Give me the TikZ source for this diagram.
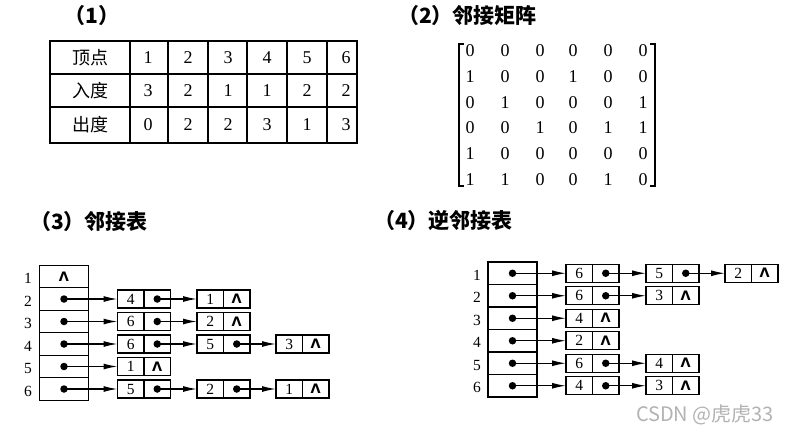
\documentclass[tikz,border=0pt]{standalone}
\usepackage{fontspec}
\setmainfont{Liberation Serif}
\newfontfamily\cjk{Noto Sans CJK SC}
\newfontfamily\djv{DejaVu Sans}
\usetikzlibrary{arrows.meta}
\newcommand\nilsym{{\djv\bfseries\fontsize{13}{13}\selectfont Λ}}
\tikzset{
 tbl/.style={line width=2pt},
 cell/.style={draw, line width=1.4pt, outer sep=0pt, minimum width=26.5pt, minimum height=18pt, inner sep=0pt, font=\fontsize{15.5}{15.5}\selectfont},
 headcell/.style={draw, line width=1.4pt, outer sep=0pt, minimum width=49pt, minimum height=22.5pt, inner sep=0pt},
 ptr/.style={line width=1.3pt, -{Latex[length=14pt,width=6pt]}},
 dot/.style={circle, fill, inner sep=0pt, minimum size=7.5pt},
 title/.style={font=\cjk\bfseries\fontsize{21}{21}\selectfont, anchor=west, inner sep=0pt},
 num/.style={font=\fontsize{18}{18}\selectfont, inner sep=0pt},
 hz/.style={font=\cjk\fontsize{18}{18}\selectfont, inner sep=0pt},
 rowlbl/.style={font=\fontsize{15.5}{15.5}\selectfont, inner sep=0pt},
 wm/.style={font=\cjk\fontsize{20}{20}\selectfont, text=black!30, inner sep=0pt},
}
% list element: name, left x, center y, value, 1 = pointer / 0 = nil
\newcommand\lel[5]{%
 \node[cell,anchor=west] (#1v) at (#2,#3) {#4};
 \node[cell,anchor=west] (#1p) at (#1v.east) {\ifnum#5=0 \nilsym\fi};
 \ifnum#5=1 \node[dot] (#1d) at (#1p.center) {};\fi
}
\begin{document}
\begin{tikzpicture}[x=1pt,y=-1pt]
\path[use as bounding box] (0,0) rectangle (789,434);

% ---------- (1) ----------
\node[title,anchor=center] (t1) at (92,16) {（1）};
\draw[tbl] (50,41) rectangle (357,143);
\draw[tbl] (50,74) -- (357,74) (50,107) -- (357,107);
\foreach \x in {130,168,208,247,287,327} \draw[tbl] (\x,41) -- (\x,143);
\node[hz] (tr1) at (90,58) {顶点};
\node[hz] (tr2) at (90,91) {入度};
\node[hz] (tr3) at (90,125) {出度};
\foreach \v [count=\i] in {1,2,3,4,5,6} {
  \pgfmathsetmacro\xx{{148,188,228,267,307,346}[\i-1]}
  \node[num] (ta\i) at (\xx,58) {\v};
}
\foreach \v [count=\i] in {3,2,1,1,2,2} {
  \pgfmathsetmacro\xx{{148,188,228,267,307,346}[\i-1]}
  \node[num] (tb\i) at (\xx,91) {\v};
}
\foreach \v [count=\i] in {0,2,2,3,1,3} {
  \pgfmathsetmacro\xx{{148,188,228,267,307,346}[\i-1]}
  \node[num] (tc\i) at (\xx,125) {\v};
}

% ---------- (2) ----------
\node[title] (t2) at (398,16) {（2）邻接矩阵};
\draw[line width=1.4pt] (464,44) -- (459,44) -- (459,186) -- (464,186);
\draw[line width=1.4pt] (650,44) -- (655,44) -- (655,186) -- (650,186);
\foreach \row [count=\r] in {{0,0,0,0,0,0},{1,0,0,1,0,0},{0,1,0,0,0,1},{0,0,1,0,1,1},{1,0,0,0,0,0},{1,1,0,0,1,0}} {
  \foreach \v [count=\c] in \row {
    \pgfmathsetmacro\xx{{470,505,540,573,608,643}[\c-1]}
    \pgfmathsetmacro\yy{{51,77,103,128,154,180}[\r-1]}
    \node[num] (m\r-\c) at (\xx,\yy) {\v};
  }
}

% ---------- (3) ----------
\node[title] (t3) at (30,222) {（3）邻接表};
\foreach \i/\y in {1/276.5,2/299,3/321.5,4/344,5/366.5,6/389} {
  \node[headcell] (a\i) at (64,\y) {};
  \node[rowlbl] (al\i) at (28,\y+2) {\i};
}
\node[inner sep=0pt] (anil) at (a1.center) {\nilsym};
\foreach \i in {2,3,4,5,6} \node[dot] (ad\i) at (a\i.center) {};
% row 2
\lel{a2x}{117.5}{299}{4}{1}
\lel{a2y}{197}{299}{1}{0}
\draw[ptr] (ad2.center) -- (a2xv.west);
\draw[ptr] (a2xd.center) -- (a2yv.west);
% row 3
\lel{a3x}{117.5}{321.5}{6}{1}
\lel{a3y}{197}{321.5}{2}{0}
\draw[ptr] (ad3.center) -- (a3xv.west);
\draw[ptr] (a3xd.center) -- (a3yv.west);
% row 4
\lel{a4x}{117.5}{344}{6}{1}
\lel{a4y}{197}{344}{5}{1}
\lel{a4z}{276}{344}{3}{0}
\draw[ptr] (ad4.center) -- (a4xv.west);
\draw[ptr] (a4xd.center) -- (a4yv.west);
\draw[ptr] (a4yd.center) -- (a4zv.west);
% row 5
\lel{a5x}{117.5}{366.5}{1}{0}
\draw[ptr] (ad5.center) -- (a5xv.west);
% row 6
\lel{a6x}{117.5}{389}{5}{1}
\lel{a6y}{197}{389}{2}{1}
\lel{a6z}{276}{389}{1}{0}
\draw[ptr] (ad6.center) -- (a6xv.west);
\draw[ptr] (a6xd.center) -- (a6yv.west);
\draw[ptr] (a6yd.center) -- (a6zv.west);

% ---------- (4) ----------
\node[title] (t4) at (374,220) {（4）逆邻接表};
\foreach \i/\y in {1/273.25,2/295.75,3/318.25,4/340.75,5/363.25,6/385.75} {
  \node[headcell] (b\i) at (512.5,\y) {};
  \node[rowlbl] (bl\i) at (477,\y+2) {\i};
  \node[dot] (bd\i) at (b\i.center) {};
}
% row 1
\lel{b1x}{566}{273.25}{6}{1}
\lel{b1y}{646}{273.25}{5}{1}
\lel{b1z}{725}{273.25}{2}{0}
\draw[ptr] (bd1.center) -- (b1xv.west);
\draw[ptr] (b1xd.center) -- (b1yv.west);
\draw[ptr] (b1yd.center) -- (b1zv.west);
% row 2
\lel{b2x}{566}{295.75}{6}{1}
\lel{b2y}{646}{295.75}{3}{0}
\draw[ptr] (bd2.center) -- (b2xv.west);
\draw[ptr] (b2xd.center) -- (b2yv.west);
% row 3
\lel{b3x}{566}{318.25}{4}{0}
\draw[ptr] (bd3.center) -- (b3xv.west);
% row 4
\lel{b4x}{566}{340.75}{2}{0}
\draw[ptr] (bd4.center) -- (b4xv.west);
% row 5
\lel{b5x}{566}{363.25}{6}{1}
\lel{b5y}{646}{363.25}{4}{0}
\draw[ptr] (bd5.center) -- (b5xv.west);
\draw[ptr] (b5xd.center) -- (b5yv.west);
% row 6
\lel{b6x}{566}{385.75}{4}{1}
\lel{b6y}{646}{385.75}{3}{0}
\draw[ptr] (bd6.center) -- (b6xv.west);
\draw[ptr] (b6xd.center) -- (b6yv.west);

% watermark
\node[wm] (wm) at (705,415) {CSDN @虎虎33};
\end{tikzpicture}
\end{document}
